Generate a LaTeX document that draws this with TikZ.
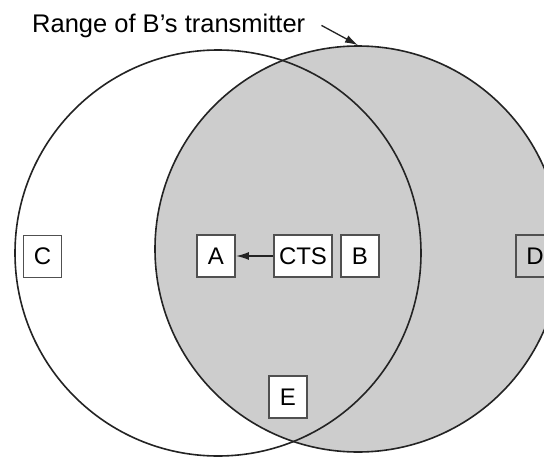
\documentclass[tikz,border=0pt]{standalone}
\usepackage{fontspec}
\setmainfont{Liberation Sans}
\usetikzlibrary{arrows.meta,positioning}
\definecolor{rangeGray}{RGB}{205,205,205}
\definecolor{edgeDark}{RGB}{35,35,35}
\definecolor{boxEdge}{RGB}{80,80,80}

\begin{document}
\begin{tikzpicture}[x=1pt,y=-1pt,
    reach/.style={circle,inner sep=0pt,minimum size=406pt,draw=edgeDark,line width=1.6pt},
    box/.style={draw=boxEdge,line width=1.8pt,fill=white,font=\fontsize{24}{28}\selectfont,
      inner xsep=5pt,minimum width=38pt,minimum height=42pt},
    arrow/.style={-{Latex[length=13pt,width=8pt]},line width=1.6pt,draw=edgeDark}
  ]
    \clip (0,0) rectangle (544,458);
    \fill[white] (0,0) rectangle (544,458);
    % the two transmitter ranges
    \node[reach,fill=rangeGray] (reachB) at (358,249) {};
    \node[reach] (reachA) at (218,253) {};

    \node[box] (c) at (42.5,256.5) {C};
    \node[box] (a) at (216,256) {A};
    \node[box] (cts) at (303,256) {CTS};
    \node[box] (b) at (360,256) {B};
    \node[box,fill=none] (d) at (535,256) {D};
    \node[box] (e) at (288,397) {E};

    \node[anchor=base west,inner xsep=16pt,inner ysep=2pt,font=\fontsize{25.5}{30}\selectfont] (label) at (16,32) {Range of B's transmitter};

    \draw[arrow] (cts) -- (a);
    \draw[arrow,line width=1.3pt] (label.east) -- (reachB.north);
  \end{tikzpicture}
\end{document}
